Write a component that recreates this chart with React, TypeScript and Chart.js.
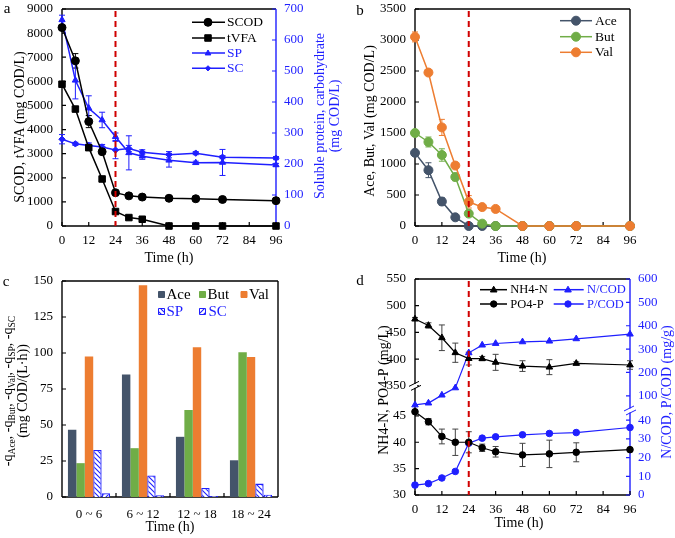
import React, { useEffect, useRef } from "react";
import { Chart, registerables } from "chart.js";

Chart.register(...registerables);

// ---------------- data ----------------
const TIME = [0, 6, 12, 18, 24, 30, 36, 48, 60, 72, 96];
const TIME_TICKS = [0, 12, 24, 36, 48, 60, 72, 84, 96];
const PHASE_END = 24;

// panel a
const SCOD = [8230, 6850, 4330, 3080, 1380, 1250, 1200, 1150, 1130, 1100, 1050];
const SCOD_ERR = [120, 300, 250, 100, 80, 60, 60, 80, 50, 50, 60];
const TVFA = [5880, 4850, 3250, 1950, 600, 350, 280, 0, 0, 0, 0];
const TVFA_ERR = [60, 100, 120, 60, 60, 40, 30, 0, 0, 0, 0];
const SP = [665, 470, 380, 342, 288, 236, 225, 212, 204, 205, 197];
const SP_ERR = [15, 60, 40, 25, 12, 55, 10, 22, 5, 42, 5];
const SC = [280, 265, 260, 255, 245, 250, 238, 230, 235, 222, 219];
const SC_ERR = [15, 5, 8, 8, 28, 10, 8, 10, 5, 5, 5];
const A_LEFT_TICKS = [0, 1000, 2000, 3000, 4000, 5000, 6000, 7000, 8000, 9000];
const A_RIGHT_TICKS = [0, 100, 200, 300, 400, 500, 600, 700];

// panel b
const ACE = [1180, 900, 395, 140, 0, 0, 0, 0, 0, 0, 0];
const ACE_ERR = [40, 120, 60, 40, 0, 15, 0, 0, 0, 0, 0];
const BUT = [1500, 1355, 1145, 790, 200, 38, 0, 0, 0, 0, 0];
const BUT_ERR = [30, 80, 100, 60, 30, 10, 0, 0, 0, 0, 0];
const VAL = [3050, 2475, 1590, 975, 390, 305, 275, 0, 0, 0, 0];
const VAL_ERR = [80, 40, 130, 30, 100, 20, 30, 0, 0, 0, 0];
const B_TICKS = [0, 500, 1000, 1500, 2000, 2500, 3000, 3500];

// panel c
const RATE_CATS = ["0 ~ 6", "6 ~ 12", "12 ~ 18", "18 ~ 24"];
const Q_ACE = [46.7, 85, 41.8, 25.5];
const Q_BUT = [23.5, 33.9, 60.4, 100.5];
const Q_VAL = [97.5, 147, 104, 97.3];
const Q_SP = [32.7, 14.9, 6.3, 9.3];
const Q_SC = [2.6, 1.2, 0.7, 1.6];
const C_TICKS = [0, 25, 50, 75, 100, 125, 150];

// panel d
const NH4 = [475, 463, 440, 412, 401, 401, 394, 387, 385, 392, 389];
const NH4_ERR = [3, 5, 24, 18, 12, 4, 15, 10, 14, 3, 8];
const PO4 = [45.8, 43.9, 41.1, 40.0, 40.0, 38.95, 38.2, 37.6, 37.8, 38.1, 38.6];
const PO4_ERR = [0.3, 0.6, 1.4, 2.5, 2.0, 0.7, 1.0, 2.2, 2.6, 1.8, 0.3];
const NCOD = [61, 69, 103, 134, 284, 317, 324, 331, 334, 344, 364];
const PCOD = [5.3, 6.1, 9.1, 12.6, 27.7, 30.4, 31.1, 32.2, 32.9, 33.4, 36.1];
const D_LEFT_UP_TICKS = [350, 400, 450, 500, 550];
const D_LEFT_LOW_TICKS = [30, 35, 40, 45];
const D_RIGHT_UP_TICKS = [100, 200, 300, 400, 500, 600];
const D_RIGHT_LOW_TICKS = [0, 10, 20, 30, 40];

// ---------------- style ----------------
const FONT = "'Liberation Serif', 'Times New Roman', serif";
const BLUE = "#1f1fff";
const RED = "#d00000";
const C_ACE = "#44546a";
const C_BUT = "#70ad47";
const C_VAL = "#ed7d31";

Chart.defaults.font.family = FONT;

const fnt = (size: number) => `${size}px ${FONT}`;

function hatch(dir: number): any {
  const n = 5;
  const c = document.createElement("canvas");
  c.width = n;
  c.height = n;
  const g = c.getContext("2d")!;
  g.fillStyle = "#fff";
  g.fillRect(0, 0, n, n);
  g.strokeStyle = BLUE;
  g.lineWidth = 1.1;
  g.beginPath();
  if (dir > 0) {
    g.moveTo(-1, n + 1); g.lineTo(n + 1, -1);
    g.moveTo(-n / 2 - 1, n / 2 + 1); g.lineTo(n / 2 + 1, -n / 2 - 1);
    g.moveTo(n / 2 - 1, n * 1.5 + 1); g.lineTo(n * 1.5 + 1, n / 2 - 1);
  } else {
    g.moveTo(-1, -1); g.lineTo(n + 1, n + 1);
    g.moveTo(-n / 2 - 1, n / 2 - 1); g.lineTo(n / 2 + 1, n * 1.5 + 1);
    g.moveTo(n / 2 - 1, -n / 2 - 1); g.lineTo(n * 1.5 + 1, n / 2 + 1);
  }
  g.stroke();
  return g.createPattern(c, "repeat");
}

function drawMarker(ctx: CanvasRenderingContext2D, type: string, x: number, y: number, r: number, fill: any, stroke: string) {
  ctx.save();
  ctx.fillStyle = fill;
  ctx.strokeStyle = stroke;
  ctx.lineWidth = 1;
  ctx.beginPath();
  if (type === "circle") ctx.arc(x, y, r, 0, Math.PI * 2);
  else if (type === "rect") { const h = r * Math.SQRT1_2; ctx.rect(x - h, y - h, 2 * h, 2 * h); }
  else if (type === "box") ctx.rect(x - r, y - r, 2 * r, 2 * r);
  else if (type === "triangle") {
    ctx.moveTo(x, y - r);
    ctx.lineTo(x + r * 0.95, y + r * 0.65);
    ctx.lineTo(x - r * 0.95, y + r * 0.65);
    ctx.closePath();
  } else if (type === "rectRot") {
    ctx.moveTo(x, y - r); ctx.lineTo(x + r, y); ctx.lineTo(x, y + r); ctx.lineTo(x - r, y); ctx.closePath();
  }
  ctx.fill();
  ctx.stroke();
  ctx.restore();
}

type Seg = { t: string; sub?: boolean };
type TextItem = { x: number; y: number; text?: string; segs?: Seg[]; rot?: number; color?: string; size?: number };

function drawText(ctx: CanvasRenderingContext2D, it: TextItem) {
  const size = it.size ?? 14;
  const segs = it.segs ?? [{ t: it.text ?? "" }];
  ctx.save();
  ctx.translate(it.x, it.y);
  if (it.rot) ctx.rotate(it.rot);
  ctx.fillStyle = it.color ?? "#000";
  ctx.textBaseline = "middle";
  ctx.textAlign = "left";
  const sizes = segs.map((s) => (s.sub ? size * 0.68 : size));
  const widths = segs.map((s, i) => { ctx.font = fnt(sizes[i]); return ctx.measureText(s.t).width; });
  let x = -widths.reduce((a, b) => a + b, 0) / 2;
  segs.forEach((s, i) => {
    ctx.font = fnt(sizes[i]);
    ctx.fillText(s.t, x, s.sub ? size * 0.3 : 0);
    x += widths[i];
  });
  ctx.restore();
}

type LegItem = { x0?: number; x1?: number; mx: number; y: number; tx: number; label: string; color: string; textColor: string; marker: string; r: number; fill?: any };
type TickSpec = { id: string; side: "left" | "right" | "bottom"; color: string; len?: number; between?: boolean };
type FrameSpec = { left?: string; right?: string; top?: string; bottom?: string; lw?: number };
type BreakSpec = { scale: string; side: "left" | "right"; color: string };

function decor(cfg: { frame: FrameSpec; ticks: TickSpec[]; vline?: boolean; legend?: LegItem[]; legendSize?: number; texts?: TextItem[]; breaks?: BreakSpec[] }) {
  return {
    id: "decor",
    beforeDatasetsDraw(chart: any) {
      const ctx: CanvasRenderingContext2D = chart.ctx;
      const a = chart.chartArea;
      const f = cfg.frame;
      const lw = f.lw ?? 1.4;
      ctx.save();
      ctx.lineWidth = lw;
      const seg = (c: string | undefined, x1: number, y1: number, x2: number, y2: number) => {
        if (!c) return;
        ctx.strokeStyle = c;
        ctx.beginPath(); ctx.moveTo(x1, y1); ctx.lineTo(x2, y2); ctx.stroke();
      };
      seg(f.top, a.left, a.top, a.right, a.top);
      seg(f.bottom, a.left, a.bottom, a.right, a.bottom);
      seg(f.left, a.left, a.top, a.left, a.bottom);
      seg(f.right, a.right, a.top, a.right, a.bottom);
      ctx.restore();
      // inside ticks
      for (const sp of cfg.ticks) {
        const s: any = chart.scales[sp.id];
        const len = sp.len ?? 4;
        let pos: number[] = [];
        if (sp.between) {
          for (let i = 0; i < s.ticks.length - 1; i++) pos.push((s.getPixelForTick(i) + s.getPixelForTick(i + 1)) / 2);
        } else pos = s.ticks.map((t: any) => s.getPixelForValue(t.value));
        ctx.save();
        ctx.strokeStyle = sp.color;
        ctx.lineWidth = 1.2;
        ctx.beginPath();
        for (const p of pos) {
          if (sp.side === "left") { ctx.moveTo(s.right, p); ctx.lineTo(s.right + len, p); }
          else if (sp.side === "right") { ctx.moveTo(s.left, p); ctx.lineTo(s.left - len, p); }
          else { ctx.moveTo(p, s.top); ctx.lineTo(p, s.top - len); }
        }
        ctx.stroke();
        ctx.restore();
      }
      // error bars
      chart.data.datasets.forEach((ds: any, i: number) => {
        if (!ds.errorBars) return;
        const meta = chart.getDatasetMeta(i);
        const ys = chart.scales[meta.yAxisID];
        ctx.save();
        ctx.strokeStyle = ds.errorColor ?? ds.borderColor;
        ctx.lineWidth = 1;
        meta.data.forEach((pt: any, j: number) => {
          const e = ds.errorBars[j];
          if (!e) return;
          const v = ds.data[j].y;
          const y1 = ys.getPixelForValue(v + e);
          const y2 = ys.getPixelForValue(v - e);
          ctx.beginPath();
          ctx.moveTo(pt.x, y1); ctx.lineTo(pt.x, y2);
          ctx.moveTo(pt.x - 3, y1); ctx.lineTo(pt.x + 3, y1);
          ctx.moveTo(pt.x - 3, y2); ctx.lineTo(pt.x + 3, y2);
          ctx.stroke();
        });
        ctx.restore();
      });
    },
    afterDatasetsDraw(chart: any) {
      const ctx: CanvasRenderingContext2D = chart.ctx;
      const a = chart.chartArea;
      if (cfg.vline) {
        const x = chart.scales.x.getPixelForValue(PHASE_END);
        ctx.save();
        ctx.strokeStyle = RED;
        ctx.lineWidth = 2;
        ctx.setLineDash([6, 4]);
        ctx.beginPath(); ctx.moveTo(x, a.top + 2); ctx.lineTo(x, a.bottom); ctx.stroke();
        ctx.restore();
      }
      for (const b of cfg.breaks ?? []) {
        const s: any = chart.scales[b.scale];
        const y = s.bottom;
        const x = b.side === "left" ? a.left : a.right;
        ctx.save();
        ctx.fillStyle = "#fff";
        ctx.fillRect(x - 2, y - 2, 4, 4);
        ctx.strokeStyle = b.color;
        ctx.lineWidth = 1;
        ctx.beginPath();
        ctx.moveTo(x - 6, y + 0.5); ctx.lineTo(x + 4, y - 4.5);
        ctx.moveTo(x - 4, y + 4.5); ctx.lineTo(x + 6, y - 0.5);
        ctx.stroke();
        ctx.restore();
      }
      for (const it of cfg.legend ?? []) {
        if (it.x0 !== undefined && it.x1 !== undefined) {
          ctx.save();
          ctx.strokeStyle = it.color;
          ctx.lineWidth = 1.5;
          ctx.beginPath(); ctx.moveTo(it.x0, it.y); ctx.lineTo(it.x1, it.y); ctx.stroke();
          ctx.restore();
        }
        drawMarker(ctx, it.marker, it.mx, it.y, it.r, it.fill ?? it.color, it.color);
        ctx.save();
        ctx.font = fnt(cfg.legendSize ?? 13.5);
        ctx.fillStyle = it.textColor;
        ctx.textBaseline = "middle";
        ctx.textAlign = "left";
        ctx.fillText(it.label, it.tx, it.y + 0.5);
        ctx.restore();
      }
      for (const t of cfg.texts ?? []) drawText(ctx, t);
    },
  };
}

// ---------------- helpers ----------------
function base(top: number, right: number) {
  return {
    responsive: false,
    maintainAspectRatio: false,
    animation: false,
    events: [],
    layout: { padding: { top, right, left: 0, bottom: 0 } },
    plugins: { legend: { display: false }, tooltip: { enabled: false } },
  };
}

function yScale(o: { min: number; max: number; ticks: number[]; width: number; position: string; color?: string; stack?: string; stackWeight?: number; weight?: number; pad?: number }) {
  const s: any = {
    type: "linear",
    position: o.position,
    min: o.min,
    max: o.max,
    weight: o.weight ?? 0,
    grid: { display: false, drawTicks: false },
    border: { display: false },
    ticks: { color: o.color ?? "#000", font: { family: FONT, size: 13 }, padding: o.pad ?? 9, autoSkip: false, callback: (v: any) => String(v) },
    afterBuildTicks: (sc: any) => { sc.ticks = o.ticks.map((v) => ({ value: v })); },
    afterFit: (sc: any) => { sc.width = o.width; sc.paddingTop = 0; sc.paddingBottom = 0; sc.paddingLeft = 0; sc.paddingRight = 0; },
  };
  if (o.stack) { s.stack = o.stack; s.stackWeight = o.stackWeight; }
  return s;
}

function xTime(height: number, pad: number) {
  return {
    type: "linear",
    position: "bottom",
    min: 0,
    max: 96,
    grid: { display: false, drawTicks: false },
    border: { display: false },
    ticks: { color: "#000", font: { family: FONT, size: 13 }, padding: pad, autoSkip: false, maxRotation: 0, callback: (v: any) => String(v) },
    afterBuildTicks: (sc: any) => { sc.ticks = TIME_TICKS.map((v) => ({ value: v })); },
    afterFit: (sc: any) => { sc.height = height; sc.paddingLeft = 0; sc.paddingRight = 0; sc.paddingTop = 0; sc.paddingBottom = 0; },
  };
}

function lineDs(label: string, ys: number[], err: number[], color: string, style: string, r: number, yAxisID: string, lw = 1.5, errColor?: string) {
  return {
    label,
    data: TIME.map((t, i) => ({ x: t, y: ys[i] })),
    errorBars: err,
    errorColor: errColor ?? color,
    borderColor: color,
    backgroundColor: color,
    pointStyle: style,
    pointRadius: r,
    pointBorderWidth: 1,
    borderWidth: lw,
    xAxisID: "x",
    yAxisID,
    clip: false,
    tension: 0,
  };
}

// ---------------- panels ----------------
function makeA(): any {
  return {
    type: "line",
    data: {
      datasets: [
        lineDs("SCOD", SCOD, SCOD_ERR, "#000", "circle", 4, "y"),
        lineDs("tVFA", TVFA, TVFA_ERR, "#000", "rect", 4.6, "y"),
        lineDs("SP", SP, SP_ERR, BLUE, "triangle", 3.6, "y2"),
        lineDs("SC", SC, SC_ERR, BLUE, "rectRot", 3.2, "y2"),
      ],
    },
    options: {
      ...base(9, 0),
      scales: {
        x: xTime(42, 7),
        y: yScale({ min: 0, max: 9000, ticks: A_LEFT_TICKS, width: 62, position: "left" }),
        y2: yScale({ min: 0, max: 700, ticks: A_RIGHT_TICKS, width: 69, position: "right", color: BLUE, pad: 8 }),
      },
    },
    plugins: [
      decor({
        frame: { left: "#000", top: "#000", bottom: "#000", right: BLUE },
        ticks: [
          { id: "x", side: "bottom", color: "#000" },
          { id: "y", side: "left", color: "#000" },
          { id: "y2", side: "right", color: BLUE },
        ],
        vline: true,
        legend: [
          { x0: 192, x1: 225, mx: 208, y: 22.3, tx: 227, label: "SCOD", color: "#000", textColor: "#000", marker: "circle", r: 4 },
          { x0: 192, x1: 225, mx: 208, y: 38, tx: 227, label: "tVFA", color: "#000", textColor: "#000", marker: "rect", r: 4.6 },
          { x0: 192, x1: 225, mx: 208, y: 53, tx: 227, label: "SP", color: BLUE, textColor: BLUE, marker: "triangle", r: 3 },
          { x0: 192, x1: 225, mx: 208, y: 68.3, tx: 227, label: "SC", color: BLUE, textColor: BLUE, marker: "rectRot", r: 2.6 },
        ],
        texts: [
          { x: 7, y: 9, text: "a", size: 15 },
          { x: 169, y: 258, text: "Time (h)" },
          { x: 20, y: 127, text: "SCOD, tVFA (mg COD/L)", rot: -Math.PI / 2 },
          { x: 320, y: 116, text: "Soluble protein, carbohydrate", rot: -Math.PI / 2, color: BLUE },
          { x: 335, y: 116, text: "(mg COD/L)", rot: -Math.PI / 2, color: BLUE },
        ],
      }),
    ],
  };
}

function makeB(): any {
  return {
    type: "line",
    data: {
      datasets: [
        lineDs("Val", VAL, VAL_ERR, C_VAL, "circle", 4.5, "y"),
        lineDs("But", BUT, BUT_ERR, C_BUT, "circle", 4.5, "y"),
        lineDs("Ace", ACE, ACE_ERR, C_ACE, "circle", 4.5, "y"),
      ],
    },
    options: {
      ...base(9, 45),
      scales: {
        x: xTime(42, 7),
        y: yScale({ min: 0, max: 3500, ticks: B_TICKS, width: 78, position: "left" }),
      },
    },
    plugins: [
      decor({
        frame: { left: "#000", top: "#000", bottom: "#000", right: "#000" },
        ticks: [
          { id: "x", side: "bottom", color: "#000" },
          { id: "y", side: "left", color: "#000" },
        ],
        vline: true,
        legend: [
          { x0: 223, x1: 255, mx: 239, y: 20.7, tx: 258, label: "Ace", color: C_ACE, textColor: "#000", marker: "circle", r: 4.5 },
          { x0: 223, x1: 255, mx: 239, y: 36.7, tx: 258, label: "But", color: C_BUT, textColor: "#000", marker: "circle", r: 4.5 },
          { x0: 223, x1: 255, mx: 239, y: 52.3, tx: 258, label: "Val", color: C_VAL, textColor: "#000", marker: "circle", r: 4.5 },
        ],
        texts: [
          { x: 23, y: 11, text: "b", size: 15 },
          { x: 185, y: 258, text: "Time (h)" },
          { x: 33, y: 121, text: "Ace, But, Val (mg COD/L)", rot: -Math.PI / 2 },
        ],
      }),
    ],
  };
}

function makeC(): any {
  const spFill = hatch(-1);
  const scFill = hatch(1);
  const bar = (label: string, data: number[], color: any, border?: string) => ({
    label,
    data,
    backgroundColor: color,
    borderColor: border ?? color,
    borderWidth: border ? 1.3 : 0,
    borderSkipped: "bottom",
    barPercentage: 1,
    categoryPercentage: 0.78,
  });
  return {
    type: "bar",
    data: {
      labels: RATE_CATS,
      datasets: [
        bar("Ace", Q_ACE, C_ACE),
        bar("But", Q_BUT, C_BUT),
        bar("Val", Q_VAL, C_VAL),
        bar("SP", Q_SP, spFill, BLUE),
        bar("SC", Q_SC, scFill, BLUE),
      ],
    },
    options: {
      ...base(13, 59),
      scales: {
        x: {
          type: "category",
          position: "bottom",
          offset: true,
          grid: { display: false, drawTicks: false, offset: true },
          border: { display: false },
          ticks: { color: "#000", font: { family: FONT, size: 13 }, padding: 10, autoSkip: false, maxRotation: 0 },
          afterFit: (sc: any) => { sc.height = 41; sc.paddingLeft = 0; sc.paddingRight = 0; sc.paddingTop = 0; sc.paddingBottom = 0; },
        },
        y: yScale({ min: 0, max: 150, ticks: C_TICKS, width: 62, position: "left" }),
      },
    },
    plugins: [
      decor({
        frame: { left: "#000", top: "#000", bottom: "#000", right: "#000" },
        ticks: [
          { id: "x", side: "bottom", color: "#000", between: true },
          { id: "y", side: "left", color: "#000" },
        ],
        legendSize: 15,
        legend: [
          { mx: 161.5, y: 26.5, tx: 166.5, label: "Ace", color: C_ACE, textColor: "#000", marker: "box", r: 3 },
          { mx: 202.5, y: 26.5, tx: 207.5, label: "But", color: C_BUT, textColor: "#000", marker: "box", r: 3 },
          { mx: 244, y: 26.5, tx: 249, label: "Val", color: C_VAL, textColor: "#000", marker: "box", r: 3 },
          { mx: 161.5, y: 43.5, tx: 166.5, label: "SP", color: BLUE, textColor: BLUE, marker: "box", r: 3, fill: spFill },
          { mx: 202.5, y: 43.5, tx: 208.5, label: "SC", color: BLUE, textColor: BLUE, marker: "box", r: 3, fill: scFill },
        ],
        texts: [
          { x: 6, y: 14, text: "c", size: 15 },
          { x: 170, y: 259, text: "Time (h)" },
          {
            x: 8,
            y: 123,
            rot: -Math.PI / 2,
            segs: [
              { t: "-q" }, { t: "Ace", sub: true }, { t: ", -q" }, { t: "But", sub: true }, { t: ", -q" }, { t: "Val", sub: true },
              { t: ", -q" }, { t: "SP", sub: true }, { t: ", -q" }, { t: "SC", sub: true },
            ],
          },
          { x: 23, y: 123, text: "(mg COD/(L·h))", rot: -Math.PI / 2 },
        ],
      }),
    ],
  };
}

function makeD(): any {
  return {
    type: "line",
    data: {
      datasets: [
        lineDs("NH4-N", NH4, NH4_ERR, "#000", "triangle", 3.8, "yLU", 1.2, "#444"),
        lineDs("PO4-P", PO4, PO4_ERR, "#000", "circle", 3.3, "yLL", 1.2, "#444"),
        lineDs("N/COD", NCOD, NCOD.map(() => 0), BLUE, "triangle", 3.8, "yRU", 1.2),
        lineDs("P/COD", PCOD, PCOD.map(() => 0), BLUE, "circle", 3.3, "yRL", 1.2),
      ],
    },
    options: {
      ...base(11, 0),
      scales: {
        x: xTime(43, 7),
        yLL: yScale({ min: 30, max: 50.7, ticks: D_LEFT_LOW_TICKS, width: 78, position: "left", stack: "L", stackWeight: 109, weight: 0 }),
        yLU: yScale({ min: 350, max: 550, ticks: D_LEFT_UP_TICKS, width: 78, position: "left", stack: "L", stackWeight: 106.7, weight: 1 }),
        yRU: yScale({ min: 37.3, max: 600, ticks: D_RIGHT_UP_TICKS, width: 45, position: "right", color: BLUE, stack: "R", stackWeight: 131.3, weight: 0, pad: 8 }),
        yRL: yScale({ min: 0, max: 45.2, ticks: D_RIGHT_LOW_TICKS, width: 45, position: "right", color: BLUE, stack: "R", stackWeight: 84.4, weight: 1, pad: 8 }),
      },
    },
    plugins: [
      decor({
        frame: { left: "#000", top: "#000", bottom: "#000", right: BLUE },
        ticks: [
          { id: "x", side: "bottom", color: "#000" },
          { id: "yLU", side: "left", color: "#000" },
          { id: "yLL", side: "left", color: "#000" },
          { id: "yRU", side: "right", color: BLUE },
          { id: "yRL", side: "right", color: BLUE },
        ],
        vline: true,
        breaks: [
          { scale: "yLU", side: "left", color: "#000" },
          { scale: "yRU", side: "right", color: BLUE },
        ],
        legendSize: 12.5,
        legend: [
          { x0: 143, x1: 170, mx: 156.7, y: 21.7, tx: 173.3, label: "NH4-N", color: "#000", textColor: "#000", marker: "triangle", r: 3.5 },
          { x0: 143, x1: 170, mx: 156.7, y: 36, tx: 173.3, label: "PO4-P", color: "#000", textColor: "#000", marker: "circle", r: 3.2 },
          { x0: 216.7, x1: 246.7, mx: 231, y: 21.7, tx: 250, label: "N/COD", color: BLUE, textColor: BLUE, marker: "triangle", r: 3.5 },
          { x0: 216.7, x1: 246.7, mx: 231, y: 36, tx: 250, label: "P/COD", color: BLUE, textColor: BLUE, marker: "circle", r: 3.2 },
        ],
        texts: [
          { x: 23, y: 13, text: "d", size: 15 },
          { x: 182, y: 255, text: "Time (h)" },
          { x: 47, y: 122, text: "NH4-N, PO4-P (mg/L)", rot: -Math.PI / 2 },
          { x: 330, y: 124, text: "N/COD, P/COD (mg/g)", rot: -Math.PI / 2, color: BLUE },
        ],
      }),
    ],
  };
}

function ChartCanvas(props: { left: number; top: number; width: number; height: number; make: () => any }) {
  const ref = useRef<HTMLCanvasElement>(null);
  useEffect(() => {
    const chart = new Chart(ref.current as HTMLCanvasElement, props.make());
    return () => chart.destroy();
  }, []);
  return (
    <canvas
      ref={ref}
      width={props.width}
      height={props.height}
      style={{ position: "absolute", left: props.left, top: props.top, width: props.width, height: props.height }}
    />
  );
}

export default function App() {
  return (
    <div style={{ position: "fixed", left: 0, top: 0, width: 675, height: 538, background: "#fff", overflow: "hidden" }}>
      <ChartCanvas left={0} top={0} width={345} height={268} make={makeA} />
      <ChartCanvas left={337} top={0} width={338} height={268} make={makeB} />
      <ChartCanvas left={0} top={268} width={337} height={270} make={makeC} />
      <ChartCanvas left={337} top={268} width={338} height={270} make={makeD} />
    </div>
  );
}
